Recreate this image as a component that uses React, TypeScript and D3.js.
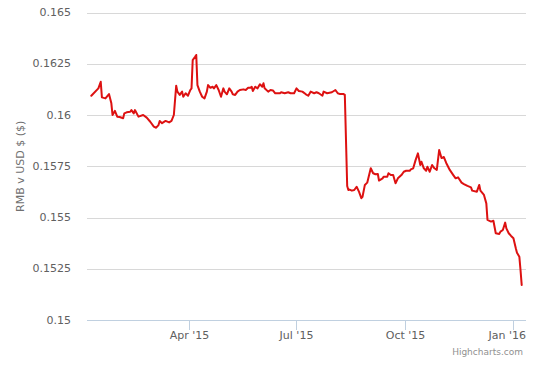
import React from "react";
import * as d3 from "d3";

const dates: string[] = [
  "2015-01-08","2015-01-14","2015-01-16","2015-01-17","2015-01-20","2015-01-23","2015-01-25","2015-01-26","2015-01-28","2015-01-30",
  "2015-02-01","2015-02-04","2015-02-05","2015-02-07","2015-02-10","2015-02-11","2015-02-13","2015-02-14","2015-02-17","2015-02-21","2015-02-24","2015-02-27",
  "2015-03-02","2015-03-04","2015-03-06","2015-03-07","2015-03-09","2015-03-12","2015-03-15","2015-03-17","2015-03-19","2015-03-21","2015-03-22","2015-03-24","2015-03-26","2015-03-27","2015-03-29","2015-03-31",
  "2015-04-02","2015-04-03","2015-04-04","2015-04-06","2015-04-07","2015-04-08","2015-04-10","2015-04-12","2015-04-14","2015-04-16","2015-04-17","2015-04-19","2015-04-21","2015-04-22","2015-04-24","2015-04-26","2015-04-28","2015-04-30",
  "2015-05-01","2015-05-03","2015-05-05","2015-05-07","2015-05-08","2015-05-10","2015-05-12","2015-05-14","2015-05-17","2015-05-19","2015-05-21","2015-05-23","2015-05-24","2015-05-25","2015-05-27","2015-05-29","2015-05-31",
  "2015-06-02","2015-06-03","2015-06-04","2015-06-07","2015-06-09","2015-06-11","2015-06-13","2015-06-17","2015-06-18","2015-06-21","2015-06-24","2015-06-26","2015-06-29",
  "2015-07-01","2015-07-03","2015-07-06","2015-07-09","2015-07-11","2015-07-13","2015-07-16","2015-07-18","2015-07-20","2015-07-23","2015-07-24","2015-07-27","2015-07-31",
  "2015-08-03","2015-08-05","2015-08-07","2015-08-10","2015-08-11","2015-08-13","2015-08-14","2015-08-15","2015-08-17","2015-08-19","2015-08-21","2015-08-23","2015-08-25","2015-08-26","2015-08-28","2015-08-30",
  "2015-09-02","2015-09-04","2015-09-06","2015-09-08","2015-09-09","2015-09-12","2015-09-13","2015-09-16","2015-09-17","2015-09-19","2015-09-21","2015-09-23","2015-09-25","2015-09-28","2015-09-30",
  "2015-10-02","2015-10-05","2015-10-06","2015-10-08","2015-10-10","2015-10-12","2015-10-14","2015-10-15","2015-10-17","2015-10-19","2015-10-20","2015-10-22","2015-10-24","2015-10-26","2015-10-28","2015-10-30",
  "2015-11-01","2015-11-03","2015-11-05","2015-11-08","2015-11-11","2015-11-13","2015-11-15","2015-11-18","2015-11-20","2015-11-23","2015-11-26","2015-11-27",
  "2015-12-01","2015-12-03","2015-12-04","2015-12-07","2015-12-09","2015-12-10","2015-12-13","2015-12-15","2015-12-17","2015-12-20","2015-12-21","2015-12-23","2015-12-25","2015-12-26","2015-12-28","2015-12-30",
  "2016-01-01","2016-01-03","2016-01-04","2016-01-06","2016-01-07","2016-01-08"
];

const rates: number[] = [
  0.16094,0.16130,0.16162,0.16086,0.16081,0.16102,0.16057,0.16000,0.16020,0.15992,
  0.15990,0.15984,0.16008,0.16013,0.16016,0.16024,0.16008,0.16024,0.15992,0.16000,0.15987,0.15967,
  0.15943,0.15938,0.15951,0.15971,0.15960,0.15971,0.15964,0.15971,0.16000,0.16143,0.16114,0.16098,0.16114,0.16089,0.16106,0.16094,
  0.16122,0.16130,0.16268,0.16284,0.16293,0.16146,0.16114,0.16089,0.16081,0.16114,0.16146,0.16133,0.16138,0.16130,0.16146,0.16122,0.16089,0.16130,
  0.16114,0.16101,0.16130,0.16114,0.16101,0.16098,0.16114,0.16122,0.16125,0.16122,0.16133,0.16133,0.16138,0.16117,0.16138,0.16130,0.16150,
  0.16138,0.16155,0.16130,0.16114,0.16122,0.16120,0.16106,0.16106,0.16111,0.16106,0.16111,0.16106,0.16106,
  0.16130,0.16117,0.16114,0.16101,0.16094,0.16114,0.16106,0.16111,0.16106,0.16094,0.16114,0.16106,0.16111,
  0.16122,0.16106,0.16102,0.16102,0.16098,0.15654,0.15634,0.15636,0.15631,0.15634,0.15650,0.15626,0.15594,0.15601,0.15659,0.15670,
  0.15740,0.15716,0.15711,0.15712,0.15680,0.15691,0.15699,0.15699,0.15716,0.15707,0.15707,0.15667,0.15691,0.15707,0.15723,
  0.15728,0.15728,0.15735,0.15740,0.15780,0.15813,0.15756,0.15772,0.15740,0.15728,0.15748,0.15723,0.15756,0.15740,0.15732,0.15829,
  0.15790,0.15795,0.15766,0.15732,0.15707,0.15691,0.15696,0.15670,0.15663,0.15654,0.15647,0.15631,
  0.15626,0.15659,0.15631,0.15610,0.15569,0.15488,0.15480,0.15484,0.15423,0.15420,0.15431,0.15439,0.15475,0.15447,0.15423,0.15410,
  0.15399,0.15350,0.15328,0.15309,0.15244,0.15171
];

const yTicks: number[] = [0.15, 0.1525, 0.155, 0.1575, 0.16, 0.1625, 0.165];
const xTickDates: string[] = ["2015-04-01", "2015-07-01", "2015-10-01", "2016-01-01"];
const xTickLabels: string[] = ["Apr '15", "Jul '15", "Oct '15", "Jan '16"];
const yTitle = "RMB v USD $ ($)";
const credit = "Highcharts.com";

const W = 546;
const H = 380;
const left = 87;
const right = 526;
const top = 12.5;
const bottom = 320;
const FONT = "'DejaVu Sans', Verdana, sans-serif";

export default function App() {
  const parse = (s: string) => new Date(s + "T00:00:00Z");
  const points = dates.map((d, i) => ({ date: parse(d), v: rates[i] }));
  const [t0, t1] = d3.extent(points, (p) => p.date.getTime()) as [number, number];
  const pad = (t1 - t0) * 0.01;
  const x = d3.scaleTime().domain([new Date(t0 - pad), new Date(t1 + pad)]).range([left, right]);
  const y = d3.scaleLinear().domain([0.15, 0.165]).range([bottom, top]);
  const line = d3
    .line<{ date: Date; v: number }>()
    .x((p) => x(p.date))
    .y((p) => y(p.v));

  return (
    <svg
      width={W}
      height={H}
      style={{ position: "absolute", left: 0, top: 0, background: "#fff" }}
      fontFamily={FONT}
    >
      {yTicks.map((t) => (
        <g key={t}>
          <line x1={left} x2={right} y1={Math.round(y(t)) + 0.5} y2={Math.round(y(t)) + 0.5} stroke="#D8D8D8" strokeWidth={1} />
          <text x={71} y={y(t)} dy="0.33em" textAnchor="end" fontSize={11} fill="#606060">
            {String(t)}
          </text>
        </g>
      ))}
      <line x1={left} x2={right} y1={bottom + 0.5} y2={bottom + 0.5} stroke="#C0D0E0" strokeWidth={1} />
      {xTickDates.map((d, i) => {
        const px = Math.round(x(parse(d))) + 0.5;
        const halfW = 19.5;
        const overflow = px + halfW > right;
        return (
          <g key={d}>
            <line x1={px} x2={px} y1={bottom} y2={bottom + 10} stroke="#C0D0E0" strokeWidth={1} />
            <text
              x={overflow ? right : px}
              y={339}
              textAnchor={overflow ? "end" : "middle"}
              fontSize={11}
              fill="#606060"
            >
              {xTickLabels[i]}
            </text>
          </g>
        );
      })}
      <text
        transform={`translate(24, ${(top + bottom) / 2}) rotate(-90)`}
        textAnchor="middle"
        fontSize={11}
        fill="#707070"
      >
        {yTitle}
      </text>
      <path d={line(points) || ""} fill="none" stroke="#DD1111" strokeWidth={2} strokeLinejoin="round" strokeLinecap="round" />
      <text x={523} y={355} textAnchor="end" fontSize={9} fill="#909090">
        {credit}
      </text>
    </svg>
  );
}
